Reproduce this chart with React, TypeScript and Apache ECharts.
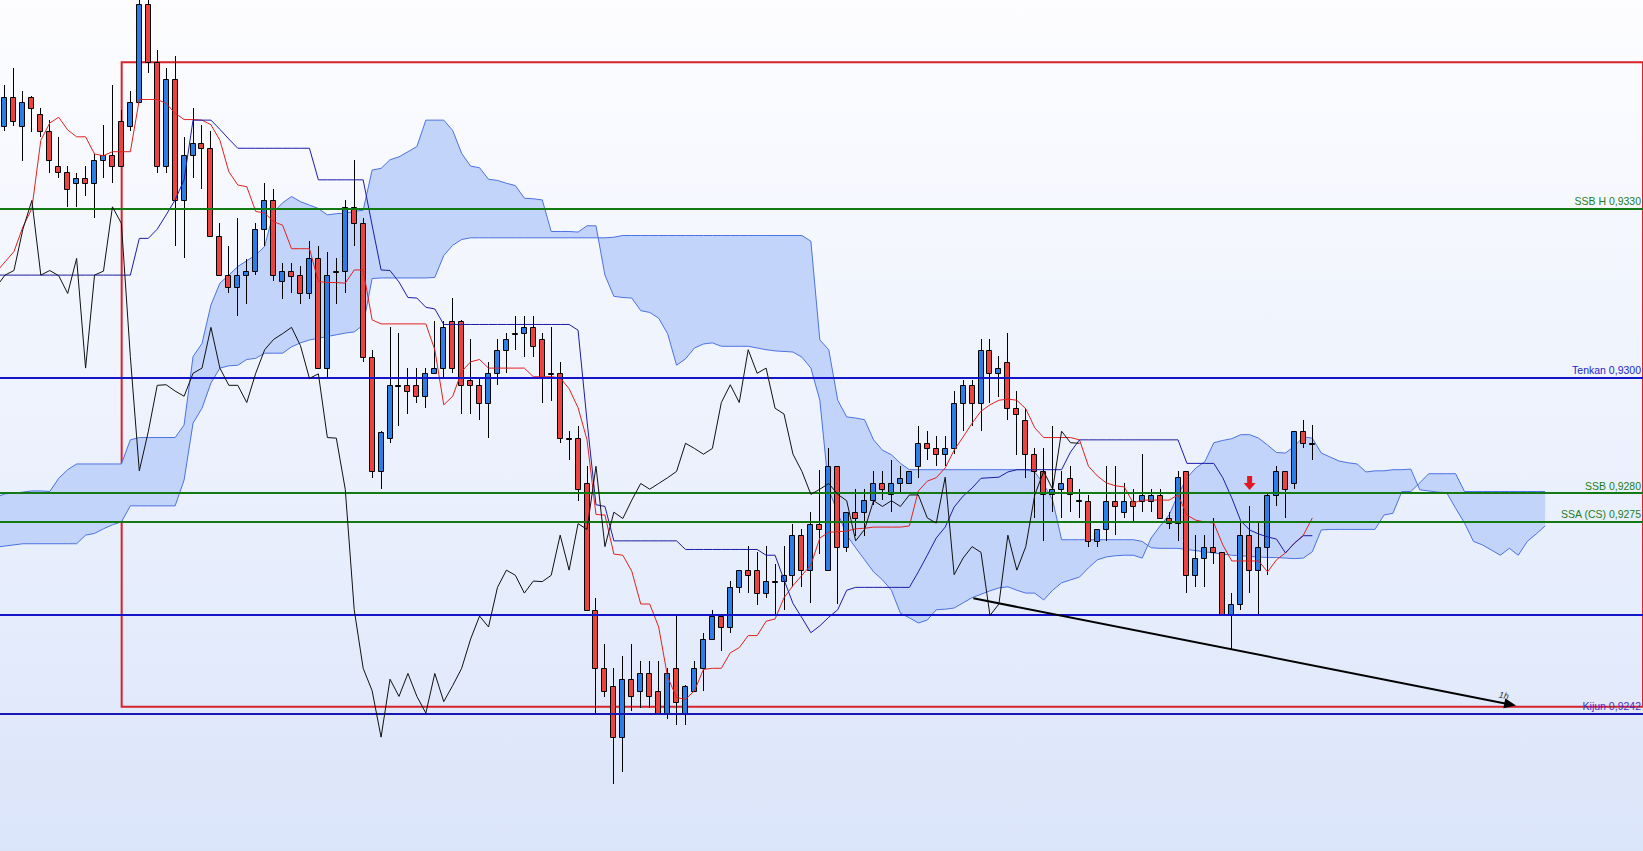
import React, { useEffect, useRef } from 'react';
import * as echarts from 'echarts';

// ---------- data (prices) ----------
const OPEN = [
  0.93444, 0.93494, 0.93444, 0.93494, 0.93464, 0.93435, 0.93374, 0.93363, 0.93344, 0.93354,
  0.93344, 0.93384, 0.93394, 0.93453, 0.93444, 0.93485, 0.93656, 0.93556, 0.93374, 0.93526,
  0.93314, 0.93394, 0.93414, 0.93405, 0.93253, 0.93184, 0.93163, 0.93184, 0.93192, 0.93264,
  0.93314, 0.93173, 0.93192, 0.93184, 0.93152, 0.93213, 0.93022, 0.93192, 0.93192, 0.93303,
  0.93274, 0.93042, 0.92843, 0.92901, 0.92992, 0.92992, 0.92992, 0.92973, 0.93013, 0.93022,
  0.93104, 0.93104, 0.93001, 0.92992, 0.92962, 0.93013, 0.93054, 0.93083, 0.93083, 0.93093,
  0.93072, 0.93013, 0.93013, 0.92901, 0.92901, 0.92821, 0.92601, 0.92499, 0.92469, 0.92379,
  0.92480, 0.92460, 0.92490, 0.92459, 0.92421, 0.92499, 0.92421, 0.92460, 0.92499, 0.92550,
  0.92590, 0.92571, 0.92640, 0.92670, 0.92670, 0.92630, 0.92651, 0.92651, 0.92661, 0.92731,
  0.92670, 0.92750, 0.92670, 0.92851, 0.92711, 0.92771, 0.92771, 0.92792, 0.92821, 0.92802,
  0.92821, 0.92821, 0.92851, 0.92891, 0.92882, 0.92872, 0.92882, 0.92962, 0.92993, 0.92962,
  0.93054, 0.93013, 0.93033, 0.92952, 0.92932, 0.92872, 0.92842, 0.92802, 0.92811, 0.92831,
  0.92792, 0.92791, 0.92721, 0.92741, 0.92791, 0.92771, 0.92791, 0.92791, 0.92791, 0.92801,
  0.92761, 0.92752, 0.92842, 0.92662, 0.92691, 0.92711, 0.92701, 0.92591, 0.92611, 0.92731,
  0.92670, 0.92711, 0.92801, 0.92842, 0.92821, 0.92912, 0.92892,
];
const CLOSE = [
  0.93494, 0.93453, 0.93485, 0.93475, 0.93435, 0.93384, 0.93363, 0.93334, 0.93354, 0.93344,
  0.93384, 0.93394, 0.93374, 0.93374, 0.93485, 0.93656, 0.93556, 0.93374, 0.93526, 0.93314,
  0.93394, 0.93414, 0.93405, 0.93253, 0.93184, 0.93163, 0.93184, 0.93192, 0.93264, 0.93314,
  0.93184, 0.93192, 0.93183, 0.93152, 0.93213, 0.93022, 0.93184, 0.93191, 0.93303, 0.93274,
  0.93042, 0.92843, 0.92911, 0.92992, 0.92993, 0.92982, 0.92973, 0.93013, 0.93022, 0.93093,
  0.93022, 0.92992, 0.92992, 0.92962, 0.93013, 0.93054, 0.93072, 0.93082, 0.93093, 0.93061,
  0.93004, 0.93012, 0.92901, 0.92900, 0.92811, 0.92601, 0.92499, 0.92460, 0.92379, 0.92480,
  0.92450, 0.92490, 0.92450, 0.92421, 0.92490, 0.92441, 0.92469, 0.92499, 0.92550, 0.92590,
  0.92571, 0.92640, 0.92670, 0.92661, 0.92630, 0.92651, 0.92650, 0.92661, 0.92731, 0.92670,
  0.92751, 0.92741, 0.92851, 0.92711, 0.92771, 0.92760, 0.92792, 0.92821, 0.92811, 0.92821,
  0.92831, 0.92842, 0.92891, 0.92882, 0.92872, 0.92882, 0.92962, 0.92993, 0.92962, 0.93054,
  0.93013, 0.93022, 0.92952, 0.92942, 0.92872, 0.92842, 0.92802, 0.92811, 0.92821, 0.92802,
  0.92791, 0.92721, 0.92741, 0.92791, 0.92781, 0.92791, 0.92781, 0.92801, 0.92801, 0.92761,
  0.92752, 0.92832, 0.92662, 0.92691, 0.92711, 0.92701, 0.92591, 0.92611, 0.92731, 0.92670,
  0.92711, 0.92801, 0.92842, 0.92811, 0.92912, 0.92892, 0.92891,
];
const HIGH = [
  0.93515, 0.93544, 0.93505, 0.93496, 0.93475, 0.93454, 0.93425, 0.93374, 0.93362, 0.93374,
  0.93395, 0.93446, 0.93515, 0.93472, 0.93505, 0.93668, 0.93668, 0.93576, 0.93544, 0.93566,
  0.93425, 0.93475, 0.93446, 0.93435, 0.93274, 0.93234, 0.93283, 0.93212, 0.93274, 0.93344,
  0.93334, 0.93205, 0.93205, 0.93200, 0.93243, 0.93235, 0.93225, 0.93213, 0.93315, 0.93385,
  0.93283, 0.93054, 0.92912, 0.93093, 0.93083, 0.93022, 0.93022, 0.93022, 0.93104, 0.93104,
  0.93144, 0.93105, 0.93072, 0.93004, 0.93032, 0.93072, 0.93083, 0.93113, 0.93113, 0.93113,
  0.93083, 0.93093, 0.93033, 0.92912, 0.92922, 0.92851, 0.92622, 0.92542, 0.92499, 0.92520,
  0.92542, 0.92511, 0.92511, 0.92511, 0.92499, 0.92590, 0.92470, 0.92511, 0.92560, 0.92601,
  0.92591, 0.92651, 0.92671, 0.92712, 0.92701, 0.92712, 0.92681, 0.92712, 0.92751, 0.92742,
  0.92771, 0.92845, 0.92883, 0.92852, 0.92772, 0.92811, 0.92811, 0.92842, 0.92842, 0.92862,
  0.92851, 0.92843, 0.92922, 0.92912, 0.92903, 0.92903, 0.92982, 0.93001, 0.93001, 0.93072,
  0.93072, 0.93043, 0.93083, 0.92982, 0.92952, 0.92882, 0.92882, 0.92922, 0.92842, 0.92851,
  0.92811, 0.92801, 0.92742, 0.92851, 0.92851, 0.92821, 0.92811, 0.92872, 0.92811, 0.92811,
  0.92771, 0.92842, 0.92843, 0.92731, 0.92731, 0.92761, 0.92702, 0.92630, 0.92752, 0.92781,
  0.92752, 0.92802, 0.92851, 0.92843, 0.92913, 0.92932, 0.92923,
];
const LOW = [
  0.93435, 0.93444, 0.93383, 0.93434, 0.93425, 0.93362, 0.93354, 0.93303, 0.93303, 0.93322,
  0.93283, 0.93354, 0.93344, 0.93372, 0.93435, 0.93483, 0.93536, 0.93362, 0.93362, 0.93234,
  0.93213, 0.93354, 0.93334, 0.93252, 0.93183, 0.93152, 0.93112, 0.93134, 0.93184, 0.93234,
  0.93173, 0.93142, 0.93152, 0.93133, 0.93142, 0.93021, 0.93004, 0.93133, 0.93152, 0.93234,
  0.93032, 0.92831, 0.92811, 0.92891, 0.92922, 0.92942, 0.92962, 0.92952, 0.93012, 0.93004,
  0.93013, 0.92942, 0.92942, 0.92932, 0.92901, 0.92992, 0.93013, 0.93054, 0.93042, 0.93042,
  0.92962, 0.92964, 0.92892, 0.92862, 0.92791, 0.92600, 0.92421, 0.92449, 0.92298, 0.92319,
  0.92424, 0.92430, 0.92430, 0.92420, 0.92411, 0.92400, 0.92400, 0.92459, 0.92460, 0.92549,
  0.92530, 0.92561, 0.92630, 0.92630, 0.92610, 0.92621, 0.92590, 0.92601, 0.92640, 0.92640,
  0.92612, 0.92699, 0.92669, 0.92611, 0.92701, 0.92730, 0.92730, 0.92784, 0.92792, 0.92771,
  0.92802, 0.92820, 0.92831, 0.92862, 0.92851, 0.92851, 0.92872, 0.92912, 0.92922, 0.92912,
  0.92962, 0.92972, 0.92932, 0.92871, 0.92831, 0.92760, 0.92721, 0.92771, 0.92760, 0.92771,
  0.92760, 0.92711, 0.92711, 0.92721, 0.92731, 0.92761, 0.92752, 0.92771, 0.92771, 0.92760,
  0.92741, 0.92721, 0.92630, 0.92641, 0.92641, 0.92681, 0.92590, 0.92531, 0.92601, 0.92630,
  0.92591, 0.92662, 0.92781, 0.92761, 0.92811, 0.92882, 0.92862,
];

// Ichimoku lines, first value sits at bar index -1
const TENKAN_START = -1;
const TENKAN = [
  0.93189,
  0.93207, 0.93225, 0.93268, 0.93300, 0.93419, 0.93449, 0.93459, 0.93437, 0.93425, 0.93425,
  0.93395, 0.93392, 0.93399, 0.93399, 0.93399, 0.93490, 0.93490, 0.93490, 0.93483, 0.93466,
  0.93455, 0.93455, 0.93454, 0.93446, 0.93419, 0.93364, 0.93341, 0.93338, 0.93295, 0.93292,
  0.93277, 0.93271, 0.93230, 0.93230, 0.93230, 0.93173, 0.93171, 0.93171, 0.93170, 0.93193,
  0.93193, 0.93106, 0.93099, 0.93099, 0.93099, 0.93099, 0.93099, 0.93099, 0.93054, 0.92958,
  0.92973, 0.93016, 0.93033, 0.93037, 0.93022, 0.93022, 0.93022, 0.93022, 0.93022, 0.93007,
  0.93007, 0.93007, 0.93005, 0.92986, 0.92953, 0.92897, 0.92767, 0.92766, 0.92698, 0.92696,
  0.92668, 0.92611, 0.92611, 0.92571, 0.92484, 0.92448, 0.92445, 0.92460, 0.92497, 0.92499,
  0.92499, 0.92526, 0.92535, 0.92556, 0.92556, 0.92581, 0.92585, 0.92622, 0.92643, 0.92661,
  0.92679, 0.92726, 0.92736, 0.92737, 0.92738, 0.92742, 0.92743, 0.92745, 0.92745, 0.92745,
  0.92745, 0.92747, 0.92808, 0.92825, 0.92831, 0.92848, 0.92879, 0.92902, 0.92926, 0.92947,
  0.92958, 0.92966, 0.92968, 0.92966, 0.92951, 0.92918, 0.92901, 0.92901, 0.92901, 0.92901,
  0.92897, 0.92851, 0.92834, 0.92822, 0.92817, 0.92815, 0.92787, 0.92792, 0.92792, 0.92792,
  0.92792, 0.92801, 0.92766, 0.92757, 0.92754, 0.92752, 0.92714, 0.92686, 0.92686, 0.92686,
  0.92686, 0.92667, 0.92688, 0.92700, 0.92717, 0.92731, 0.92761,
];
const KIJUN = [
  0.93184,
  0.93184, 0.93184, 0.93184, 0.93184, 0.93184, 0.93184, 0.93184, 0.93184, 0.93184, 0.93184,
  0.93184, 0.93184, 0.93184, 0.93184, 0.93184, 0.93248, 0.93248, 0.93264, 0.93289, 0.93315,
  0.93350, 0.93454, 0.93454, 0.93454, 0.93438, 0.93421, 0.93405, 0.93405, 0.93405, 0.93405,
  0.93405, 0.93405, 0.93405, 0.93405, 0.93405, 0.93350, 0.93350, 0.93350, 0.93350, 0.93350,
  0.93350, 0.93271, 0.93193, 0.93192, 0.93172, 0.93145, 0.93144, 0.93128, 0.93125, 0.93098,
  0.93098, 0.93098, 0.93098, 0.93098, 0.93098, 0.93098, 0.93098, 0.93098, 0.93098, 0.93098,
  0.93098, 0.93098, 0.93098, 0.93098, 0.93088, 0.92930, 0.92784, 0.92781, 0.92721, 0.92721,
  0.92721, 0.92721, 0.92721, 0.92721, 0.92721, 0.92721, 0.92706, 0.92706, 0.92706, 0.92706,
  0.92706, 0.92706, 0.92706, 0.92706, 0.92706, 0.92696, 0.92696, 0.92653, 0.92612, 0.92587,
  0.92561, 0.92573, 0.92588, 0.92601, 0.92635, 0.92640, 0.92640, 0.92640, 0.92640, 0.92640,
  0.92640, 0.92640, 0.92667, 0.92696, 0.92726, 0.92745, 0.92780, 0.92799, 0.92813, 0.92830,
  0.92831, 0.92832, 0.92841, 0.92845, 0.92845, 0.92845, 0.92845, 0.92845, 0.92845, 0.92876,
  0.92897, 0.92897, 0.92897, 0.92897, 0.92897, 0.92897, 0.92897, 0.92897, 0.92897, 0.92897,
  0.92897, 0.92897, 0.92856, 0.92856, 0.92856, 0.92856, 0.92831, 0.92796, 0.92756, 0.92740,
  0.92733, 0.92728, 0.92724, 0.92700, 0.92717, 0.92730, 0.92730,
];
const SPAN_START = -1;
const SPAN_A = [
  0.92797,
  0.92803, 0.92804, 0.92806, 0.92808, 0.92808, 0.92807, 0.92830, 0.92845, 0.92855, 0.92855,
  0.92855, 0.92855, 0.92855, 0.92855, 0.92897, 0.92901, 0.92901, 0.92901, 0.92901, 0.92901,
  0.92923, 0.93042, 0.93065, 0.93132, 0.93170, 0.93184, 0.93199, 0.93209, 0.93219, 0.93234,
  0.93294, 0.93310, 0.93321, 0.93312, 0.93306, 0.93300, 0.93289, 0.93291, 0.93292, 0.93295,
  0.93297, 0.93367, 0.93370, 0.93385, 0.93390, 0.93399, 0.93408, 0.93454, 0.93454, 0.93454,
  0.93436, 0.93396, 0.93374, 0.93371, 0.93351, 0.93349, 0.93344, 0.93340, 0.93318, 0.93317,
  0.93315, 0.93260, 0.93260, 0.93260, 0.93259, 0.93270, 0.93270, 0.93184, 0.93147, 0.93145,
  0.93144, 0.93122, 0.93119, 0.93109, 0.93082, 0.93027, 0.93038, 0.93057, 0.93064, 0.93066,
  0.93060, 0.93060, 0.93060, 0.93060, 0.93057, 0.93054, 0.93052, 0.93051, 0.93050, 0.93041,
  0.93022, 0.92966, 0.92810, 0.92770, 0.92731, 0.92709, 0.92688, 0.92667, 0.92653, 0.92635,
  0.92595, 0.92587, 0.92578, 0.92583, 0.92601, 0.92602, 0.92604, 0.92613, 0.92622, 0.92628,
  0.92634, 0.92639, 0.92641, 0.92635, 0.92630, 0.92630, 0.92618, 0.92635, 0.92648, 0.92653,
  0.92658, 0.92674, 0.92688, 0.92693, 0.92695, 0.92696, 0.92696, 0.92691, 0.92726, 0.92747,
  0.92766, 0.92801, 0.92831, 0.92848, 0.92859, 0.92892, 0.92896, 0.92899, 0.92906, 0.92906,
  0.92900, 0.92888, 0.92875, 0.92874, 0.92886, 0.92902, 0.92900, 0.92874, 0.92867, 0.92860,
  0.92857, 0.92855, 0.92841, 0.92843, 0.92843, 0.92845, 0.92845, 0.92846, 0.92810, 0.92808,
  0.92806, 0.92805, 0.92778, 0.92752, 0.92720, 0.92714, 0.92705, 0.92696, 0.92708, 0.92696,
  0.92720, 0.92733, 0.92747,
];
const SPAN_B = [
  0.92710,
  0.92712, 0.92714, 0.92716, 0.92716, 0.92716, 0.92716, 0.92716, 0.92716, 0.92716, 0.92731,
  0.92734, 0.92742, 0.92749, 0.92754, 0.92782, 0.92782, 0.92782, 0.92782, 0.92782, 0.92782,
  0.92827, 0.92926, 0.92952, 0.92996, 0.93022, 0.93026, 0.93027, 0.93037, 0.93039, 0.93048,
  0.93048, 0.93048, 0.93059, 0.93066, 0.93071, 0.93074, 0.93077, 0.93080, 0.93083, 0.93085,
  0.93097, 0.93178, 0.93179, 0.93179, 0.93179, 0.93179, 0.93179, 0.93179, 0.93180, 0.93218,
  0.93236, 0.93246, 0.93249, 0.93249, 0.93249, 0.93249, 0.93249, 0.93249, 0.93249, 0.93249,
  0.93249, 0.93249, 0.93249, 0.93249, 0.93249, 0.93249, 0.93249, 0.93249, 0.93250, 0.93253,
  0.93253, 0.93253, 0.93253, 0.93253, 0.93253, 0.93253, 0.93253, 0.93253, 0.93253, 0.93253,
  0.93253, 0.93253, 0.93253, 0.93253, 0.93253, 0.93253, 0.93253, 0.93253, 0.93253, 0.93253,
  0.93243, 0.93071, 0.93054, 0.92966, 0.92937, 0.92935, 0.92932, 0.92897, 0.92879, 0.92871,
  0.92856, 0.92845, 0.92845, 0.92845, 0.92845, 0.92845, 0.92845, 0.92845, 0.92845, 0.92845,
  0.92845, 0.92845, 0.92845, 0.92845, 0.92845, 0.92841, 0.92820, 0.92792, 0.92723, 0.92723,
  0.92723, 0.92723, 0.92723, 0.92723, 0.92723, 0.92723, 0.92723, 0.92720, 0.92709, 0.92708,
  0.92708, 0.92708, 0.92706, 0.92704, 0.92702, 0.92700, 0.92698, 0.92696, 0.92695, 0.92694,
  0.92693, 0.92692, 0.92692, 0.92691, 0.92690, 0.92691, 0.92702, 0.92740, 0.92741, 0.92741,
  0.92741, 0.92741, 0.92741, 0.92741, 0.92766, 0.92769, 0.92807, 0.92807, 0.92822, 0.92838,
  0.92838, 0.92838, 0.92838, 0.92807, 0.92807, 0.92807, 0.92807, 0.92807, 0.92807, 0.92807,
  0.92807, 0.92807, 0.92807,
];
const CHIKOU_SHIFT = 26;

// horizontal levels and their texts
const LEVEL_VALUES = [0.93300, 0.93005, 0.92804, 0.92754, 0.92592, 0.92420];
const LEVEL_LABELS = ['SSB H 0,9330', 'Tenkan 0,9300', 'SSB 0,9280', 'SSA (CS) 0,9275', '', 'Kijun 0,9242'];
const LEVEL_KIND = ['green', 'blue', 'green', 'green', 'blue', 'kijun'];

// red box (bar index, price), trend arrow, signal arrow
const BOX_X = [13.03, 186];
const BOX_Y = [0.93555, 0.92432];
const TREND_X = [108.14, 168.1];
const TREND_Y = [0.92621, 0.92436];
const TREND_LABEL = '1h';
const SIGNAL = [[139, 0.92822]];

// axis extents
const X_RANGE = [-0.558, 182.93];
const Y_RANGE = [0.921807, 0.936633];

// ---------- styles ----------
const UP = '#2b7ee6';
const DOWN = '#ec4341';
const CLOUD_FILL = '#c3d4fa';
const CLOUD_LINE = '#4b72e2';
const TENKAN_COLOR = '#e2221e';
const KIJUN_COLOR = '#1c1ca6';
const GREEN = '#137a13';
const BLUE = '#1414c8';
const FONT = '"Liberation Sans", Arial, sans-serif';

const levelStyle = (kind: string) => {
  if (kind === 'green') return { line: GREEN, text: '#1d7d1d' };
  if (kind === 'kijun') return { line: '#1616b0', text: '#4030c8' };
  return { line: BLUE, text: '#2424c4' };
};

function buildOption() {
  const candles = OPEN.map((o, i) => [i, o, CLOSE[i], LOW[i], HIGH[i]]);
  const tenkan = TENKAN.map((v, k) => [k + TENKAN_START, v]);
  const kijun = KIJUN.map((v, k) => [k + TENKAN_START, v]);
  const spanA = SPAN_A.map((v, k) => [k + SPAN_START, v]);
  const spanB = SPAN_B.map((v, k) => [k + SPAN_START, v]);
  const chikou = CLOSE.slice(CHIKOU_SHIFT - 1).map((v, k) => [k - 1, v]);

  const levelLines = LEVEL_VALUES.map((v, k) => {
    const st = levelStyle(LEVEL_KIND[k]);
    return {
      yAxis: v,
      lineStyle: { color: st.line, width: 2, type: 'solid' },
      label: {
        show: LEVEL_LABELS[k] !== '',
        formatter: LEVEL_LABELS[k],
        position: 'insideEndTop',
        color: st.text,
        fontSize: 10.5,
        fontFamily: FONT,
        distance: 2,
      },
    };
  });

  const trendLine = [
    { coord: [TREND_X[0], TREND_Y[0]], symbol: 'none' },
    {
      coord: [TREND_X[1], TREND_Y[1]],
      symbol: 'triangle',
      symbolSize: [10, 12],
      lineStyle: { color: '#000', width: 2, type: 'solid' },
      label: {
        show: true,
        formatter: TREND_LABEL,
        position: 'insideEndTop',
        color: '#333',
        fontSize: 9,
        fontFamily: FONT,
        fontStyle: 'italic',
        distance: 3,
      },
    },
  ];

  return {
    animation: false,
    backgroundColor: 'transparent',
    grid: { left: 0, right: 0, top: 0, bottom: 0, containLabel: false },
    xAxis: { type: 'value', min: X_RANGE[0], max: X_RANGE[1], show: false, splitLine: { show: false } },
    yAxis: { type: 'value', min: Y_RANGE[0], max: Y_RANGE[1], show: false, splitLine: { show: false }, scale: true },
    series: [
      {
        name: 'cloud',
        type: 'custom',
        z: 1,
        silent: true,
        clip: true,
        data: [[SPAN_START + 1, SPAN_A[1]]],
        renderItem: (params: any, api: any) => {
          const pts: number[][] = [];
          SPAN_A.forEach((v, k) => pts.push(api.coord([k + SPAN_START, v])));
          for (let k = SPAN_B.length - 1; k >= 0; k--) pts.push(api.coord([k + SPAN_START, SPAN_B[k]]));
          return { type: 'polygon', shape: { points: pts }, style: { fill: CLOUD_FILL, stroke: null } };
        },
      },
      {
        name: 'spanA', type: 'line', z: 2, data: spanA, symbol: 'none', silent: true,
        lineStyle: { color: CLOUD_LINE, width: 1 },
      },
      {
        name: 'spanB', type: 'line', z: 2, data: spanB, symbol: 'none', silent: true,
        lineStyle: { color: CLOUD_LINE, width: 1 },
      },
      {
        name: 'candles',
        type: 'custom',
        z: 3,
        silent: true,
        clip: true,
        data: candles,
        encode: { x: 0, y: [1, 2, 3, 4] },
        renderItem: (params: any, api: any) => {
          const i = api.value(0);
          const o = api.value(1), c = api.value(2), l = api.value(3), h = api.value(4);
          const po = api.coord([i, o]);
          const pc = api.coord([i, c]);
          const pl = api.coord([i, l]);
          const ph = api.coord([i, h]);
          const x = Math.floor(po[0]) + 0.5;
          const top = Math.round(Math.min(po[1], pc[1]));
          let bot = Math.round(Math.max(po[1], pc[1]));
          if (bot - top < 1) bot = top + 1;
          const up = c >= o;
          return {
            type: 'group',
            children: [
              {
                type: 'line',
                shape: { x1: x, y1: Math.round(ph[1]), x2: x, y2: Math.round(pl[1]) },
                style: { stroke: '#000', lineWidth: 1 },
              },
              {
                type: 'rect',
                shape: { x: x - 3, y: top + 0.5, width: 5, height: bot - top },
                style: { fill: up ? UP : DOWN, stroke: '#000', lineWidth: 1 },
              },
            ],
          };
        },
      },
      {
        name: 'tenkan', type: 'line', z: 4, data: tenkan, symbol: 'none', silent: true,
        lineStyle: { color: TENKAN_COLOR, width: 1 },
      },
      {
        name: 'kijun', type: 'line', z: 4, data: kijun, symbol: 'none', silent: true,
        lineStyle: { color: KIJUN_COLOR, width: 1 },
      },
      {
        name: 'chikou', type: 'line', z: 5, data: chikou, symbol: 'none', silent: true,
        lineStyle: { color: '#111', width: 1 },
        markLine: {
          silent: true,
          symbol: ['none', 'none'],
          precision: 6,
          animation: false,
          data: [...levelLines, trendLine],
        },
      },
      {
        name: 'signal',
        type: 'scatter',
        z: 6,
        silent: true,
        data: SIGNAL,
        symbol: 'path://M3.5,0 L8.5,0 L8.5,7 L12,7 L6,14 L0,7 L3.5,7 Z',
        symbolSize: [12, 14],
        itemStyle: { color: '#e5161c', opacity: 1 },
        markArea: {
          silent: true,
          animation: false,
          precision: 6,
          itemStyle: { color: 'rgba(0,0,0,0)', borderColor: '#d8232a', borderWidth: 2 },
          label: { show: false },
          data: [[{ coord: [BOX_X[0], BOX_Y[0]] }, { coord: [BOX_X[1], BOX_Y[1]] }]],
        },
      },
    ],
  };
}

export default function App() {
  const ref = useRef<HTMLDivElement>(null);
  useEffect(() => {
    if (!ref.current) return;
    const chart = echarts.init(ref.current, undefined, { renderer: 'svg' });
    chart.setOption(buildOption() as any);
    return () => chart.dispose();
  }, []);
  return (
    <div
      ref={ref}
      style={{
        position: 'fixed',
        left: 0,
        top: 0,
        width: 1643,
        height: 851,
        background: 'linear-gradient(to bottom, #fdfdff 0%, #edf2fd 50%, #dbe5fa 100%)',
      }}
    />
  );
}
